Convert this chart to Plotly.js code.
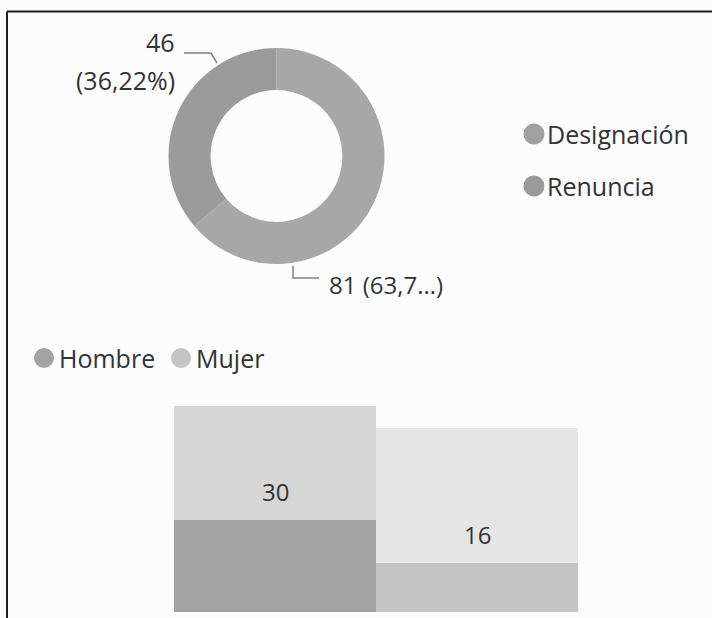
<!DOCTYPE html>
<html>
<head>
<meta charset="utf-8">
<script src="https://cdn.plot.ly/plotly-3.0.1.min.js"></script>
<style>
html,body{margin:0;padding:0;background:#fcfcfc;}
#chart{width:712px;height:618px;}
</style>
</head>
<body>
<div id="chart"></div>
<script>
// ---- Data ----
const motivos = ['Designación', 'Renuncia'];
const motivoValores = [81, 46];
const generos = ['Hombre', 'Mujer'];
const renunciaPorGenero = [30, 16];
const designacionPorGenero = [37, 44];

// ---- Helpers (figure pixel -> paper) ----
const W = 712, H = 618;
const px = x => x / W;
const py = y => 1 - y / H;

const txt = '#333333';
const fontFam = '"Open Sans", "Noto Sans", "DejaVu Sans", sans-serif';

const total = motivoValores.reduce((a, b) => a + b, 0);
const pct = motivoValores.map(v => (v / total * 100).toFixed(2).replace('.', ','));
const labelRen = [String(motivoValores[1]), '(' + pct[1] + '%)'];
const labelDes = motivoValores[0] + ' (' + pct[0].slice(0, 4) + '...)';

const pieColors = ['#a7a7a7', '#9b9b9b'];
const legendColorsPie = ['#a0a0a0', '#9a9a9a'];
const barHighlight = ['#a3a3a3', '#c4c4c4'];
const barFaded = ['#d6d6d6', '#e5e5e5'];

const traces = [
  {
    type: 'pie',
    labels: motivos,
    values: motivoValores,
    hole: 0.61,
    sort: false,
    direction: 'clockwise',
    rotation: 0,
    textinfo: 'none',
    marker: {colors: pieColors, line: {width: 0}},
    domain: {x: [px(168), px(385)], y: [py(264), py(48)]},
    showlegend: false,
    hoverinfo: 'label+value+percent'
  },
  {
    type: 'bar',
    name: 'Renuncia',
    x: generos,
    y: renunciaPorGenero,
    marker: {color: barHighlight, line: {width: 0}},
    showlegend: false,
    hoverinfo: 'x+y'
  },
  {
    type: 'bar',
    name: 'Designación',
    x: generos,
    y: designacionPorGenero,
    marker: {color: barFaded, line: {width: 0}},
    showlegend: false,
    hoverinfo: 'x+y'
  }
];

const annotations = [];
const shapes = [];
const ann = (text, x, y, xanchor, size) => annotations.push({
  text: text, xref: 'paper', yref: 'paper', x: x, y: y,
  xanchor: xanchor, yanchor: 'middle', showarrow: false,
  font: {family: fontFam, size: size || 25, color: txt}
});

// Donut labels
ann(labelRen[0], px(177), py(42), 'right');
ann(labelRen[1], px(177), py(80), 'right');
ann(labelDes, px(327), py(284), 'left', 24);

// Leader lines
const lineStyle = {color: '#808080', width: 1.5};
shapes.push({type: 'path', xref: 'paper', yref: 'paper',
  path: `M ${px(184)} ${py(53)} L ${px(211)} ${py(53)} L ${px(217)} ${py(63)}`,
  line: lineStyle});
shapes.push({type: 'path', xref: 'paper', yref: 'paper',
  path: `M ${px(293)} ${py(266)} L ${px(293)} ${py(278)} L ${px(319)} ${py(278)}`,
  line: lineStyle});

// Legends (circles + text)
const circle = (cx, cy, r, color) => shapes.push({
  type: 'circle', xref: 'paper', yref: 'paper',
  x0: px(cx - r), x1: px(cx + r), y0: py(cy + r), y1: py(cy - r),
  fillcolor: color, line: {width: 0}
});
const pieLegendY = [134, 186];
motivos.forEach((m, i) => {
  circle(534, pieLegendY[i], 10.5, legendColorsPie[i]);
  ann(m, px(545), py(pieLegendY[i]), 'left');
});
const barLegendX = [44, 181];
generos.forEach((g, i) => {
  circle(barLegendX[i], 358, 10, barHighlight[i]);
  ann(g, px(barLegendX[i] + 13), py(358), 'left');
});

// Bar value labels (Renuncia values, just above highlighted part)
generos.forEach((g, i) => {
  annotations.push({
    text: String(renunciaPorGenero[i]), xref: 'x', yref: 'y',
    x: g, y: renunciaPorGenero[i], xanchor: 'center', yanchor: 'bottom',
    yshift: 10, showarrow: false,
    font: {family: fontFam, size: 24, color: txt}
  });
});

// Frame: top and left borders
shapes.push({type: 'line', xref: 'paper', yref: 'paper',
  x0: px(7), x1: 1, y0: py(11.5), y1: py(11.5), line: {color: '#1e1e1e', width: 2}});
shapes.push({type: 'line', xref: 'paper', yref: 'paper',
  x0: px(7), x1: px(7), y0: py(11.5), y1: 0, line: {color: '#1e1e1e', width: 2}});

const layout = {
  width: W, height: H,
  margin: {l: 0, r: 0, t: 0, b: 0},
  paper_bgcolor: '#fcfcfc',
  plot_bgcolor: 'rgba(0,0,0,0)',
  separators: ',.',
  barmode: 'stack',
  bargap: 0,
  showlegend: false,
  font: {family: fontFam, color: txt},
  xaxis: {domain: [px(174), px(578)], visible: false, fixedrange: true},
  yaxis: {domain: [py(612), py(392)], range: [0, (612 - 392) / 3.07], visible: false, showgrid: false, zeroline: false, fixedrange: true},
  annotations: annotations,
  shapes: shapes
};

Plotly.newPlot('chart', traces, layout, {displayModeBar: false, staticPlot: true});
</script>
</body>
</html>
